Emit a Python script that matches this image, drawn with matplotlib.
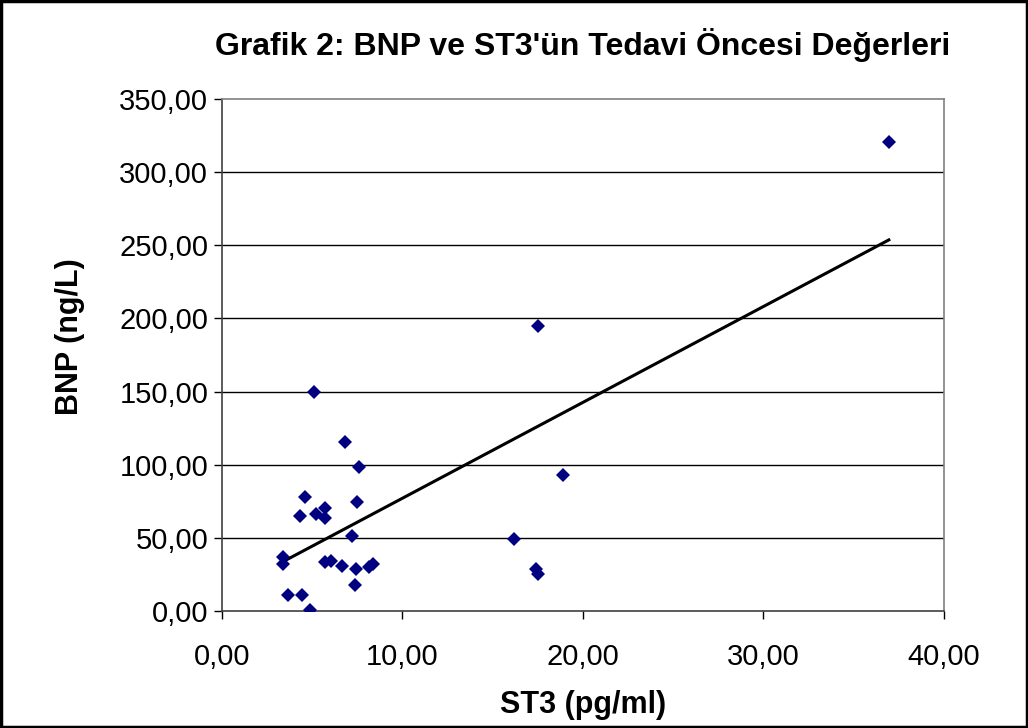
import numpy as np
import matplotlib
matplotlib.use("Agg")
import matplotlib.pyplot as plt
from matplotlib.ticker import FuncFormatter

plt.rcParams['font.family'] = ['Liberation Sans', 'DejaVu Sans']

# ST3 (pg/ml) and BNP (ng/L)
st3 = [5.1, 6.83, 7.61, 4.62, 7.50, 4.33, 5.23, 5.73, 5.73, 7.22, 3.39, 3.39, 5.71, 6.04,
       6.67, 7.40, 8.14, 8.36, 7.39, 3.68, 4.44, 4.88, 17.50, 18.88, 16.17, 17.42, 17.50, 36.96]
bnp = [150.0, 115.7, 98.6, 77.9, 74.3, 65.2, 66.3, 70.2, 63.8, 51.3, 36.7, 31.9, 33.3, 34.2,
       30.5, 28.5, 30.3, 31.9, 17.8, 10.9, 10.9, 0.9, 195.0, 92.8, 49.0, 28.5, 25.3, 320.4]
# linear trend shown in the chart (slope, intercept)
trend_slope = 6.55
trend_intercept = 11.6
x_ticks = [0, 10, 20, 30, 40]
y_ticks = [0, 50, 100, 150, 200, 250, 300, 350]

fig = plt.figure(figsize=(10.28, 7.28), dpi=100)
ax = fig.add_axes([0.216, 0.1607, 0.702, 0.7033])

for yt in y_ticks[1:-1]:
    ax.axhline(yt, color='black', lw=1.0, zorder=1)

ax.plot(st3, bnp, 'D', color='#000080', markersize=7.5, zorder=3, markeredgewidth=0)

xs = np.array([min(st3), max(st3)])
ax.plot(xs, trend_slope * xs + trend_intercept, color='black', lw=2.2, zorder=2)

ax.set_xlim(0, 40)
ax.set_ylim(0, 350)
ax.set_xticks(x_ticks)
ax.set_yticks(y_ticks)
fmt = FuncFormatter(lambda v, p: f"{v:.2f}".replace('.', ','))
ax.xaxis.set_major_formatter(fmt)
ax.yaxis.set_major_formatter(fmt)
ax.tick_params(labelsize=21, length=6, width=1, direction='out', colors='black')
ax.tick_params(axis='x', pad=17)
ax.tick_params(axis='y', pad=4)
for s in ax.spines.values():
    s.set_color('#808080')
    s.set_linewidth(1.2)
ax.spines['left'].set_color('#404040')
ax.spines['bottom'].set_color('#404040')

fig.text(0.567, 0.938, "Grafik 2: BNP ve ST3'ün Tedavi Öncesi Değerleri",
         ha='center', va='center', fontsize=23, fontweight='bold')
fig.text(0.567, 0.032, "ST3 (pg/ml)", ha='center', va='center', fontsize=22, fontweight='bold')
fig.text(0.068, 0.537, "BNP (ng/L)", ha='center', va='center', fontsize=22,
         fontweight='bold', rotation=90)

fig.patches.append(plt.Rectangle((0.001, 0.001), 0.998, 0.998, transform=fig.transFigure,
                                 fill=False, edgecolor='black', lw=2.5))

fig.savefig("out.png", dpi=100)
